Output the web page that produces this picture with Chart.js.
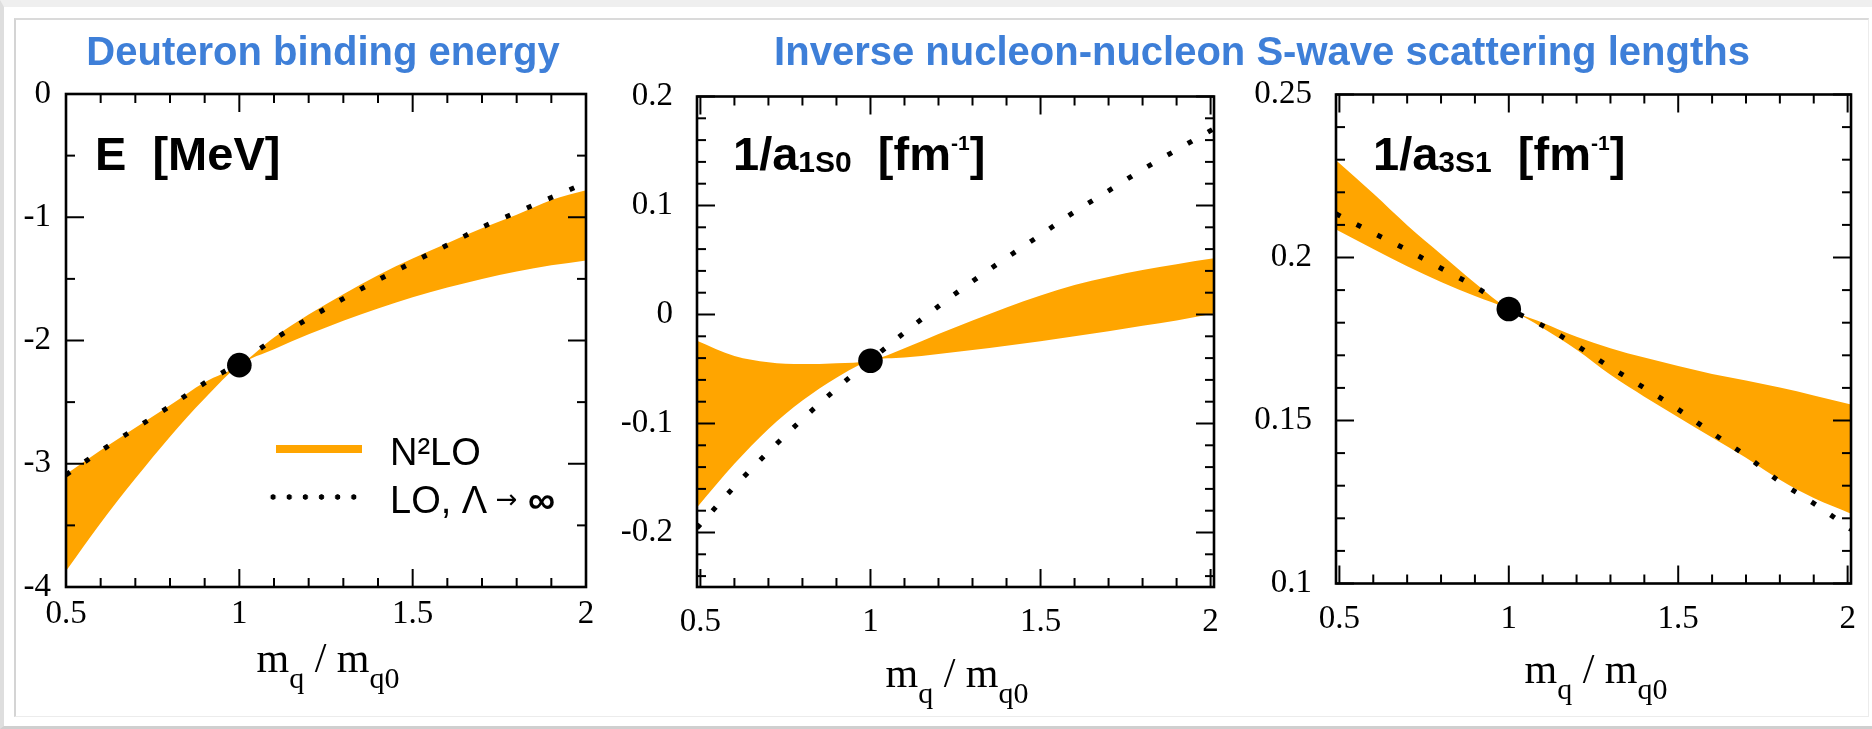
<!DOCTYPE html>
<html>
<head>
<meta charset="utf-8">
<script src="https://cdn.jsdelivr.net/npm/chart.js@4.4.1/dist/chart.umd.min.js"></script>
<style>
  html, body { margin:0; padding:0; background:#fff; }
  #page { position:relative; width:1872px; height:729px; overflow:hidden; background:#fff; }
  #frameOuter { position:absolute; left:0; top:0; width:1872px; height:729px; box-sizing:border-box;
    border-top:7px solid #efefef; border-left:4px solid #dedede; border-bottom:3px solid #cfcfcf; }
  #frameInner { position:absolute; left:14px; top:18px; width:1855px; height:699px; box-sizing:border-box;
    border-top:2px solid #dadada; border-left:2px solid #d4d4d4; border-bottom:1px solid #ececec; border-right:1px solid #ececec; }
  canvas { position:absolute; left:0; top:0; }
  .title { position:absolute; top:31.1px; font:bold 40px/40px "Liberation Sans", Arial, sans-serif; color:#3e7fd8;
    white-space:nowrap; transform:translateX(-50%); }
  .plab { position:absolute; top:130.2px; font:bold 47px/47px "Liberation Sans", Arial, sans-serif; color:#000; white-space:nowrap; }
  .psub { font-size:30px; position:relative; top:2px; }
  .psup { font-size:21px; position:relative; top:-20px; }
  .axt { position:absolute; font:42px/42px "Liberation Serif", "Times New Roman", serif; color:#000; white-space:nowrap; transform:translateX(-50%); }
  .sub { font-size:30px; position:relative; top:16px; }
  .lgtxt { position:absolute; left:390px; font:38px/38px "Liberation Sans", Arial, sans-serif; color:#000; white-space:nowrap; }
  .lgbar { position:absolute; left:276px; top:445px; width:86px; height:8.3px; background:#ffa500; }
  .lgdots { position:absolute; left:265.2px; top:493.7px; width:96.9px; height:6px;
    background:radial-gradient(circle at center, #000 2.4px, rgba(0,0,0,0) 3px) 0 0 / 16.15px 6px repeat-x; }
  .arrow { font-family:"DejaVu Sans", sans-serif; font-size:26px; position:relative; top:-5px; }
  .over { z-index:5; }
</style>
</head>
<body>
<div id="page">
  <div id="frameOuter"></div>
  <div id="frameInner"></div>
  <canvas id="c1" width="1872" height="729"></canvas>
  <canvas id="c2" width="1872" height="729"></canvas>
  <canvas id="c3" width="1872" height="729"></canvas>

  <div class="title over" style="left:323px;">Deuteron binding energy</div>
  <div class="title over" style="left:1262px;">Inverse nucleon-nucleon S-wave scattering lengths</div>

  <div class="plab over" style="left:95px;">E&nbsp;&nbsp;[MeV]</div>
  <div class="plab over" style="left:733px;">1/a<span class="psub">1S0</span>&nbsp;&nbsp;[fm<span class="psup">-1</span>]</div>
  <div class="plab over" style="left:1373px;">1/a<span class="psub">3S1</span>&nbsp;&nbsp;[fm<span class="psup">-1</span>]</div>

  <div class="axt over" style="left:328px; top:636.5px;">m<span class="sub">q</span> / m<span class="sub">q0</span></div>
  <div class="axt over" style="left:957px; top:651.5px;">m<span class="sub">q</span> / m<span class="sub">q0</span></div>
  <div class="axt over" style="left:1596px; top:647.8px;">m<span class="sub">q</span> / m<span class="sub">q0</span></div>

  <div class="lgbar over"></div>
  <div class="lgtxt over" style="top:432.8px;">N²LO</div>
  <div class="lgdots over"></div>
  <div class="lgtxt over" style="top:480.5px;">LO, Λ <span class="arrow">→</span> <b>∞</b></div>
</div>

<script>
// ---------------- DATA ----------------
// Panel 1: deuteron binding energy E [MeV] vs m_q/m_q0
const x1 = [0.5, 0.6, 0.7, 0.8, 0.9, 1.0, 1.1, 1.2, 1.3, 1.4, 1.5, 1.6, 1.7, 1.8, 1.9, 2.0];
const E_LO = [-3.09, -2.896, -2.714, -2.533, -2.344, -2.18, -1.99, -1.821, -1.66, -1.509, -1.365, -1.226, -1.081, -0.96, -0.84, -0.72];
const E_N2LO_upper = [-3.085, -2.89, -2.707, -2.525, -2.338, -2.2, -1.975, -1.79, -1.625, -1.47, -1.335, -1.21, -1.09, -0.98, -0.86, -0.78];
const E_N2LO_lower = [-3.87, -3.48, -3.12, -2.78, -2.47, -2.2, -2.07, -1.95, -1.84, -1.74, -1.65, -1.57, -1.50, -1.44, -1.39, -1.35];
const E_phys = -2.2;

// Panels 2 and 3: inverse scattering lengths [fm^-1]
const x23 = [0.49, 0.6, 0.7, 0.8, 0.9, 1.0, 1.1, 1.2, 1.3, 1.4, 1.5, 1.6, 1.7, 1.8, 1.9, 2.01];
const a1S0_LO = [-0.196, -0.158, -0.126, -0.096, -0.068, -0.042, -0.0166, 0.0075, 0.0305, 0.052, 0.073, 0.0942, 0.1135, 0.133, 0.151, 0.1705];
const a1S0_N2LO_upper = [-0.024, -0.038, -0.0437, -0.0455, -0.0447, -0.0424, -0.031, -0.018, -0.0055, 0.0065, 0.0175, 0.027, 0.0345, 0.0408, 0.0462, 0.0515];
const a1S0_N2LO_lower = [-0.177, -0.137, -0.105, -0.079, -0.058, -0.0424, -0.0395, -0.0362, -0.0326, -0.0287, -0.0245, -0.02, -0.0153, -0.0104, -0.0054, 0.001];
const a1S0_phys = -0.0424;

const a3S1_LO = [0.2134, 0.2075, 0.2023, 0.1967, 0.1911, 0.1843, 0.1791, 0.173, 0.1663, 0.16, 0.1534, 0.1462, 0.1392, 0.1312, 0.1246, 0.1166];
const a3S1_N2LO_upper = [0.2298, 0.2196, 0.2099, 0.201, 0.1922, 0.1842, 0.18, 0.1757, 0.1722, 0.1693, 0.1667, 0.1643, 0.1623, 0.1601, 0.1577, 0.1549];
const a3S1_N2LO_lower = [0.2086, 0.2026, 0.1973, 0.1925, 0.1882, 0.1842, 0.1784, 0.1717, 0.164, 0.1573, 0.151, 0.1448, 0.1386, 0.1318, 0.1262, 0.1214];
const a3S1_phys = 0.1842;

// Tick values and labels
const xMajorTicks = [0.5, 1, 1.5, 2];
const xTickLabels = ['0.5', '1', '1.5', '2'];
const xMinorTicks = [0.6, 0.7, 0.8, 0.9, 1.1, 1.2, 1.3, 1.4, 1.6, 1.7, 1.8, 1.9];

const y1MajorTicks = [-4, -3, -2, -1, 0];
const y1TickLabels = ['-4', '-3', '-2', '-1', '0'];
const y1MinorTicks = [-3.5, -2.5, -1.5, -0.5];

const y2MajorTicks = [-0.2, -0.1, 0, 0.1, 0.2];
const y2TickLabels = ['-0.2', '-0.1', '0', '0.1', '0.2'];
const y2MinorTicks = [-0.24, -0.22, -0.18, -0.16, -0.14, -0.12, -0.08, -0.06, -0.04, -0.02, 0.02, 0.04, 0.06, 0.08, 0.12, 0.14, 0.16, 0.18];

const y3MajorTicks = [0.1, 0.15, 0.2, 0.25];
const y3TickLabels = ['0.1', '0.15', '0.2', '0.25'];
const y3MinorTicks = [0.11, 0.12, 0.13, 0.14, 0.16, 0.17, 0.18, 0.19, 0.21, 0.22, 0.23, 0.24];

// ---------------- DRAWING ----------------
const W = 1872, H = 729, X_H = 72;
const ORANGE = '#ffa500';

const frameTicks = {
  id: 'frameTicks',
  afterDatasetsDraw(chart, args, o) {
    const {ctx, chartArea: a, scales: {x, y}} = chart;
    ctx.save();
    ctx.strokeStyle = '#000';
    ctx.lineCap = 'butt';
    ctx.lineWidth = 2;
    const seg = (x1, y1, x2, y2) => { ctx.beginPath(); ctx.moveTo(x1, y1); ctx.lineTo(x2, y2); ctx.stroke(); };
    const MAJ = 18, MIN = 9;
    o.xMajor.forEach(v => { const p = x.getPixelForValue(v); seg(p, a.bottom, p, a.bottom - MAJ); seg(p, a.top, p, a.top + MAJ); });
    o.xMinor.forEach(v => { const p = x.getPixelForValue(v); seg(p, a.bottom, p, a.bottom - MIN); seg(p, a.top, p, a.top + MIN); });
    o.yMajor.forEach(v => { const p = y.getPixelForValue(v); seg(a.left, p, a.left + MAJ, p); seg(a.right, p, a.right - MAJ, p); });
    o.yMinor.forEach(v => { const p = y.getPixelForValue(v); seg(a.left, p, a.left + MIN, p); seg(a.right, p, a.right - MIN, p); });
    ctx.lineWidth = 2.6;
    ctx.strokeRect(a.left, a.top, a.right - a.left, a.bottom - a.top);
    ctx.restore();
  }
};

function pts(xs, ys) { return xs.map((v, i) => ({x: v, y: ys[i]})); }

function makePanel(id, c) {
  const datasets = [
    {label: 'physical point', data: [{x: 1, y: c.phys}], showLine: false, pointRadius: 12.3, pointHoverRadius: 12.3,
     pointBackgroundColor: '#000', pointBorderWidth: 0, clip: false},
    {label: 'LO, Λ → ∞', data: pts(c.x, c.lo), borderColor: '#000', borderWidth: 5, borderDash: [5, 18.2],
     borderCapStyle: 'butt', pointRadius: 0, fill: false, cubicInterpolationMode: 'monotone'},
    {label: 'N2LO upper', data: pts(c.x, c.up), borderColor: 'rgba(0,0,0,0)', borderWidth: 1,
     backgroundColor: ORANGE, fill: '+1', pointRadius: 0, cubicInterpolationMode: 'monotone'},
    {label: 'N2LO lower', data: pts(c.x, c.down), borderColor: 'rgba(0,0,0,0)', borderWidth: 1,
     fill: false, pointRadius: 0, cubicInterpolationMode: 'monotone'}
  ];
  const tickFont = {family: '"Liberation Serif", "Times New Roman", serif', size: 33};
  new Chart(document.getElementById(id), {
    type: 'line',
    data: {datasets},
    options: {
      responsive: false, animation: false, events: [],
      layout: {padding: {left: c.area.l - c.yw, top: c.area.t, right: W - c.area.r, bottom: H - c.area.b - X_H}},
      plugins: {
        legend: {display: false}, tooltip: {enabled: false},
        frameTicks: {xMajor: xMajorTicks, xMinor: xMinorTicks, yMajor: c.yMajor, yMinor: c.yMinor}
      },
      scales: {
        x: {
          type: 'linear', min: c.xmin, max: c.xmax,
          afterFit(s) { s.height = X_H; },
          afterBuildTicks(s) { s.ticks = xMajorTicks.map(v => ({value: v})); },
          ticks: {callback: (v, i) => xTickLabels[i], font: tickFont, color: '#000', padding: c.xpad, autoSkip: false, maxRotation: 0, minRotation: 0},
          grid: {display: false, drawTicks: false}, border: {display: false}
        },
        y: {
          type: 'linear', min: c.ymin, max: c.ymax,
          afterFit(s) { s.width = c.yw; },
          afterBuildTicks(s) { s.ticks = c.yMajor.map(v => ({value: v})); },
          ticks: {callback: (v, i) => c.yLabels[i], font: tickFont, color: '#000', padding: c.ypad, autoSkip: false},
          grid: {display: false, drawTicks: false}, border: {display: false}
        }
      }
    },
    plugins: [frameTicks]
  });
}

makePanel('c1', {
  x: x1, lo: E_LO, up: E_N2LO_upper, down: E_N2LO_lower, phys: E_phys,
  xmin: 0.5, xmax: 2.0, ymin: -4, ymax: 0,
  yMajor: y1MajorTicks, yLabels: y1TickLabels, yMinor: y1MinorTicks,
  area: {l: 66, t: 94, r: 586, b: 587}, yw: 66, xpad: 7.4, ypad: 15
});
makePanel('c2', {
  x: x23, lo: a1S0_LO, up: a1S0_N2LO_upper, down: a1S0_N2LO_lower, phys: a1S0_phys,
  xmin: 0.49, xmax: 2.01, ymin: -0.25, ymax: 0.2,
  yMajor: y2MajorTicks, yLabels: y2TickLabels, yMinor: y2MinorTicks,
  area: {l: 697, t: 96.5, r: 1214, b: 587}, yw: 100, xpad: 16, ypad: 24
});
makePanel('c3', {
  x: x23, lo: a3S1_LO, up: a3S1_N2LO_upper, down: a3S1_N2LO_lower, phys: a3S1_phys,
  xmin: 0.49, xmax: 2.01, ymin: 0.1, ymax: 0.25,
  yMajor: y3MajorTicks, yLabels: y3TickLabels, yMinor: y3MinorTicks,
  area: {l: 1336, t: 94.5, r: 1853, b: 583.5}, yw: 100, xpad: 16, ypad: 24
});
</script>
</body>
</html>
